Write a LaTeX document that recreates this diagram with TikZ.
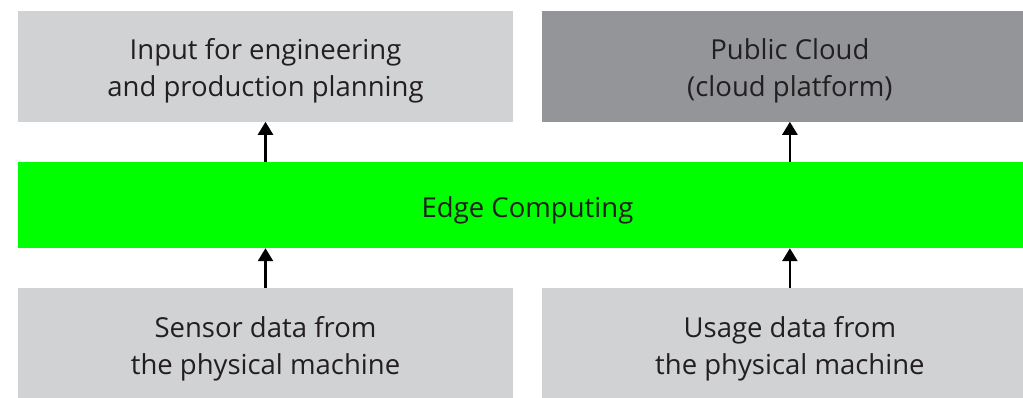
\documentclass[tikz,border=0pt]{standalone}
\usepackage{fontspec}
\setmainfont{Open Sans}
\usepackage{xcolor}
\usetikzlibrary{positioning}
\usetikzlibrary{arrows.meta}

\definecolor{boxgrey}{HTML}{D1D2D4}
\definecolor{cloudgrey}{HTML}{939598}
\definecolor{edgegreen}{HTML}{00FF00}
\definecolor{textdark}{HTML}{231F20}

\begin{document}
\begin{tikzpicture}[x=1pt, y=1pt, node distance=40pt,
  block/.style={fill=boxgrey, text=textdark, minimum width=495pt, minimum height=111pt, inner sep=0pt, align=center, font=\fontsize{27.5}{37}\selectfont},
  up/.style={line width=2.5pt, -{Triangle[width=15pt, length=13pt]}}]
\clip (0,0) rectangle (1023,397);

\node (edge) at (527.5,192) [fill=edgegreen, text=textdark, minimum width=1019pt, minimum height=86pt, inner sep=0pt, text height=32pt, font=\fontsize{27.5}{37}\selectfont] {Edge Computing};

\node (input) [above=of edge.north west, anchor=south west, block] {\rule{0pt}{31pt}Input for engineering\\and production planning};

\node (cloud) [right=29pt of input, block, fill=cloudgrey] {\rule{0pt}{31pt}Public Cloud\\(cloud platform)};

\node (sensor) [below=of edge.south west, anchor=north west, block] {\rule{0pt}{31pt}Sensor data from\\the physical machine};

\node (usage) [right=29pt of sensor, block] {\rule{0pt}{31pt}Usage data from\\the physical machine};

\draw [up] (input.south |- edge.north) -- (input.south);
\draw [up] (cloud.south |- edge.north) -- (cloud.south);
\draw [up] (sensor.north) -- (sensor.north |- edge.south);
\draw [up] (usage.north) -- (usage.north |- edge.south);

\end{tikzpicture}
\end{document}
